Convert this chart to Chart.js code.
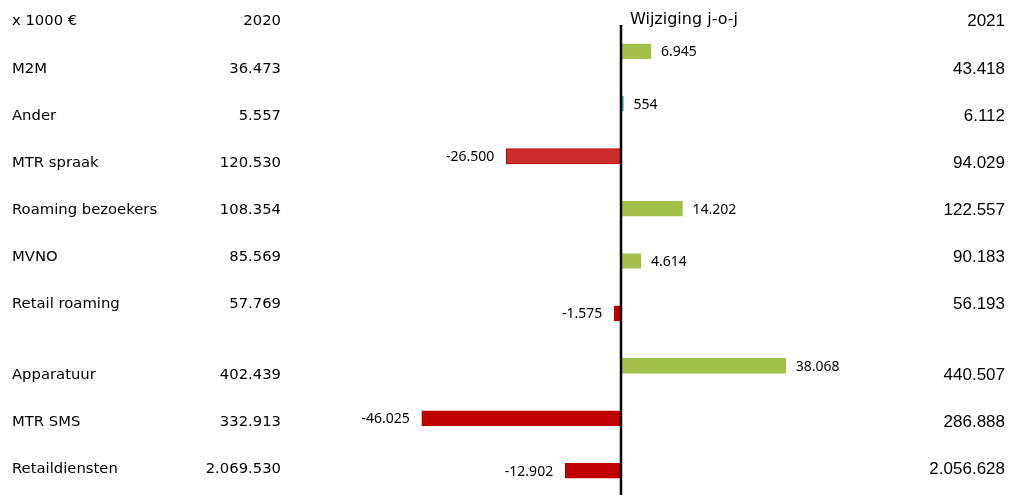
<!DOCTYPE html>
<html>
<head>
<meta charset="utf-8">
<script src="https://cdn.jsdelivr.net/npm/chart.js@4"></script>
<style>
  html, body { margin: 0; padding: 0; background: #fff; overflow: hidden; }
  .wrap { position: relative; width: 1012px; height: 497px; }
</style>
</head>
<body>
<div class="wrap"><canvas id="myChart"></canvas></div>
<script>
const categories = ["M2M", "Ander", "MTR spraak", "Roaming bezoekers", "MVNO", "Retail roaming", "Apparatuur", "MTR SMS", "Retaildiensten"];
const values2020 = [36473, 5557, 120530, 108354, 85569, 57769, 402439, 332913, 2069530];
const changes = [6945, 554, -26500, 14202, 4614, -1575, 38068, -46025, -12902];
const values2021 = [43418, 6112, 94029, 122557, 90183, 56193, 440507, 286888, 2056628];

const unitLabel = "x 1000 €";
const yearFrom = "2020";
const yearTo = "2021";
const changeTitle = "Wijziging j-o-j";

// styles
const barColors = ["#A1C14B", "#17A2A8", "#CC2E2E", "#A1C14B", "#A1C14B", "#C00000", "#A1C14B", "#C00000", "#C00000"];
const barBorders = ["#A1C14B", "#17A2A8", "#C00000", "#A1C14B", "#A1C14B", "#C00000", "#A1C14B", "#C00000", "#C00000"];

const Utils = {
  formatNumber(value) {
    const sign = value < 0 ? "-" : "";
    const digits = String(Math.abs(value)).replace(/\B(?=(\d{3})+(?!\d))/g, ".");
    return sign + digits;
  },
  // text rows of the table are spaced on their own grid, with a gap before Apparatuur
  rowTextY(i) {
    return 68 + i * 47 + (i >= 6 ? 24 : 0);
  }
};

const tablePlugin = {
  id: "tablePlugin",
  afterDraw(chart) {
    const ctx = chart.ctx;
    const xScale = chart.scales.x;
    const zeroX = xScale.getPixelForValue(0);
    const area = chart.chartArea;

    // zero axis line
    ctx.save();
    ctx.strokeStyle = "#000";
    ctx.lineWidth = 2.5;
    ctx.beginPath();
    ctx.moveTo(zeroX, area.top);
    ctx.lineTo(zeroX, chart.height);
    ctx.stroke();

    ctx.fillStyle = "#000";
    ctx.textBaseline = "middle";

    // headers
    ctx.font = "14.8px 'DejaVu Sans'";
    ctx.textAlign = "left";
    ctx.fillText(unitLabel, 12, 21);
    ctx.textAlign = "right";
    ctx.fillText(yearFrom, 281, 21);
    ctx.font = "16px 'DejaVu Sans'";
    ctx.textAlign = "left";
    ctx.fillText(changeTitle, 630, 20);
    ctx.font = "17px 'Liberation Sans'";
    ctx.textAlign = "right";
    ctx.fillText(yearTo, 1005, 21);

    // table rows
    categories.forEach((name, i) => {
      const y = Utils.rowTextY(i) + 1;
      ctx.font = "14.8px 'DejaVu Sans'";
      ctx.textAlign = "left";
      ctx.fillText(name, 12, y);
      ctx.textAlign = "right";
      ctx.fillText(Utils.formatNumber(values2020[i]), 281, y);
      ctx.font = "17px 'Liberation Sans'";
      ctx.fillText(Utils.formatNumber(values2021[i]), 1005, y);
    });

    // bar value labels
    ctx.font = "14px 'Noto Sans'";
    const meta = chart.getDatasetMeta(0);
    meta.data.forEach((bar, i) => {
      const v = changes[i];
      if (v >= 0) {
        ctx.textAlign = "left";
        ctx.fillText(Utils.formatNumber(v), bar.x + 10, bar.y + 1);
      } else {
        ctx.textAlign = "right";
        ctx.fillText(Utils.formatNumber(v), bar.x - 12, bar.y + 1);
      }
    });
    ctx.restore();
  }
};

const chartElementContext = document.getElementById("myChart").getContext("2d");

const myChart = new Chart(chartElementContext, {
  type: "bar",
  data: {
    labels: categories,
    datasets: [
      {
        label: changeTitle,
        data: changes,
        backgroundColor: barColors,
        borderColor: barBorders,
        borderWidth: 1,
        borderSkipped: false,
        barThickness: 15,
      },
    ],
  },
  options: {
    indexAxis: "y",
    responsive: true,
    maintainAspectRatio: false,
    animation: false,
    layout: {
      padding: { left: 321, right: 91, top: 25, bottom: 0 },
    },
    scales: {
      x: { display: false, min: -69300, max: 69300 },
      y: { display: false },
    },
    plugins: {
      legend: { display: false },
      tooltip: { enabled: false },
    },
  },
  plugins: [tablePlugin],
});
</script>
</body>
</html>
